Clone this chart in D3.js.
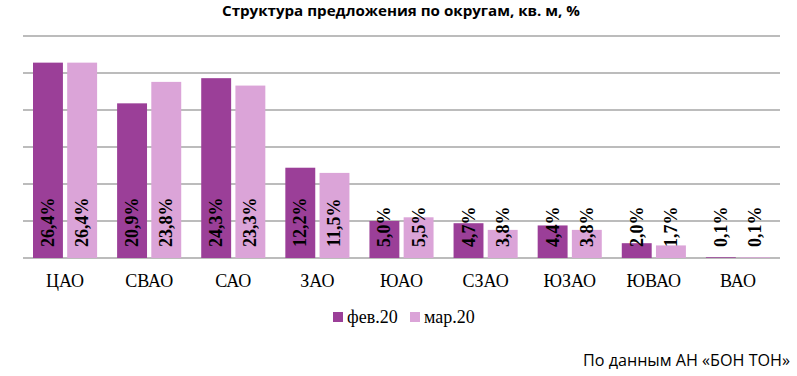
<!DOCTYPE html>
<html><head><meta charset="utf-8">
<script src="https://cdn.jsdelivr.net/npm/d3@7"></script>
<style>body{margin:0;background:#fff}svg{display:block}</style>
</head><body>
<svg id="c" width="797" height="376"></svg>
<script>
const categories = ["ЦАО","СВАО","САО","ЗАО","ЮАО","СЗАО","ЮЗАО","ЮВАО","ВАО"];
const seriesNames = ["фев.20","мар.20"];
const feb = [26.4,20.9,24.3,12.2,5.0,4.7,4.4,2.0,0.1];
const mar = [26.4,23.8,23.3,11.5,5.5,3.8,3.8,1.7,0.1];
const yTicks = [0,5,10,15,20,25,30];
const colors = ["#9b3f98","#dba4d8"];
const title = "Структура предложения по округам, кв. м, %";
const source = "По данным АН «БОН ТОН»";

(function(){
const svg = d3.select("#c");
const pL=23, pR=780, pT=36, pB=258;
const x = d3.scaleBand().domain(categories).range([pL,pR]).paddingInner(0).paddingOuter(0);
const xs = d3.scaleBand().domain(seriesNames).range([10, x.bandwidth()-10]).paddingInner(8/64).paddingOuter(0);
const y = d3.scaleLinear().domain([0,30]).range([pB,pT]);

svg.append("text").attr("x",401).attr("y",16).attr("text-anchor","middle")
  .attr("font-family","Open Sans").attr("font-weight","bold").attr("font-size",14)
  .attr("textLength",358).attr("lengthAdjust","spacingAndGlyphs")
  .text(title);

svg.append("g").selectAll("line").data(yTicks).join("line")
  .attr("x1",pL).attr("x2",pR).attr("y1",d=>y(d)).attr("y2",d=>y(d))
  .attr("stroke","#a6a6a6").attr("stroke-width",1.5);

const data = categories.map((c,i)=>({c, vals:[feb[i],mar[i]]}));
const g = svg.append("g").selectAll("g").data(data).join("g")
  .attr("transform",d=>`translate(${x(d.c)},0)`);
g.selectAll("rect").data(d=>d.vals.map((v,j)=>({v,s:seriesNames[j],j}))).join("rect")
  .attr("x",d=>xs(d.s)).attr("width",xs.bandwidth())
  .attr("y",d=>y(d.v)).attr("height",d=>y(0)-y(d.v))
  .attr("fill",d=>colors[d.j]);
g.selectAll("text.v").data(d=>d.vals.map((v,j)=>({v,s:seriesNames[j],j}))).join("text")
  .attr("class","v")
  .attr("transform",d=>`translate(${xs(d.s)+xs.bandwidth()/2},${pB-11}) rotate(-90)`)
  .attr("dominant-baseline","central")
  .attr("font-family","Liberation Serif").attr("font-weight","bold").attr("font-size",18)
  .attr("fill","#000")
  .text(d=>d3.format(".1f")(d.v).replace(".",",")+"%");

svg.append("g").selectAll("text").data(categories).join("text")
  .attr("x",d=>x(d)+x.bandwidth()/2).attr("y",287).attr("text-anchor","middle")
  .attr("font-family","Liberation Serif").attr("font-size",18).attr("fill","#000")
  .text(d=>d);

const lg = svg.append("g");
const lx = [333,410];
seriesNames.forEach((s,j)=>{
  lg.append("rect").attr("x",lx[j]).attr("y",312).attr("width",10).attr("height",10).attr("fill",colors[j]);
  lg.append("text").attr("x",lx[j]+14).attr("y",323).attr("font-family","Liberation Serif")
    .attr("font-size",18).attr("fill","#000").text(s);
});

svg.append("text").attr("x",790).attr("y",365.5).attr("text-anchor","end")
  .attr("font-family","Open Sans").attr("font-size",15.5).attr("fill","#000")
  .attr("textLength",207).attr("lengthAdjust","spacingAndGlyphs").text(source);
})();
</script>
</body></html>
